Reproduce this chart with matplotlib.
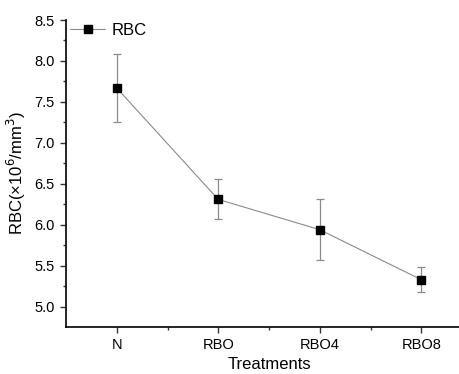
import matplotlib
matplotlib.use("Agg")
import matplotlib.pyplot as plt
from matplotlib.ticker import MultipleLocator, FixedLocator, FormatStrFormatter
from matplotlib.lines import Line2D

plt.rcParams['font.family'] = ['Liberation Sans', 'DejaVu Sans']

categories = ["N", "RBO", "RBO4", "RBO8"]
rbc_mean = [7.67, 6.31, 5.94, 5.33]
rbc_err = [0.42, 0.245, 0.375, 0.15]

fig = plt.figure(figsize=(4.6, 3.74), dpi=100)
ax = fig.add_axes([66/460, 47.3/374, (472-66)/460, (326.7-20)/374])

x = list(range(1, len(categories) + 1))
ax.errorbar(x, rbc_mean, yerr=rbc_err, color='#8a8a8a', lw=0.8,
            elinewidth=0.9, capsize=3, capthick=0.9, ecolor='#8a8a8a',
            marker='s', markersize=5.5, markerfacecolor='black',
            markeredgecolor='black', zorder=3)

ax.set_xlim(0.5, 4.5)
ax.set_ylim(4.756, 8.5)
ax.set_xticks(x)
ax.set_xticklabels(categories)
ax.xaxis.set_minor_locator(FixedLocator([1.5, 2.5, 3.5]))
ax.yaxis.set_major_locator(MultipleLocator(0.5))
ax.yaxis.set_minor_locator(MultipleLocator(0.25))
ax.yaxis.set_major_formatter(FormatStrFormatter('%.1f'))

for s in ['top', 'right']:
    ax.spines[s].set_visible(False)
for s in ['left', 'bottom']:
    ax.spines[s].set_linewidth(1.2)

ax.tick_params(axis='both', which='major', length=4, width=1, labelsize=10.5, color='#333333', pad=4)
ax.tick_params(axis='both', which='minor', length=2.5, width=1, color='#333333')

ax.set_xlabel("Treatments", fontsize=12, labelpad=4)
ax.set_ylabel("RBC(×10$^{6}$/mm$^{3}$)", fontsize=12, labelpad=5)

handle = Line2D([], [], color='#8a8a8a', lw=0.8, marker='s', markersize=5.5,
                markerfacecolor='black', markeredgecolor='black')
ax.legend([handle], ['RBC'], loc='upper left', frameon=False, fontsize=12,
          bbox_to_anchor=(0.01, 0.99), borderaxespad=0, borderpad=0,
          handlelength=2.1, handletextpad=0.4)

fig.savefig("out.png", dpi=100)
